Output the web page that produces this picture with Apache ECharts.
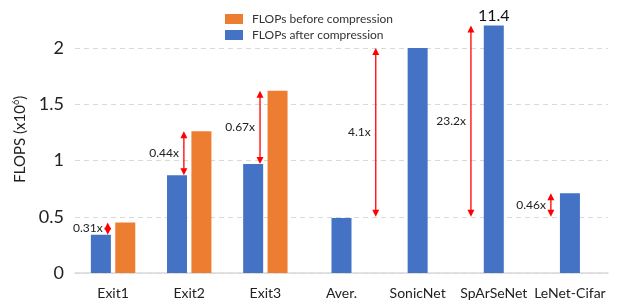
<!DOCTYPE html>
<html>
<head>
<meta charset="utf-8">
<script src="https://cdn.jsdelivr.net/npm/echarts@6/dist/echarts.min.js"></script>
<style>
  html, body { margin: 0; padding: 0; background: #fff; }
  #chart { width: 630px; height: 307px; }
</style>
</head>
<body>
<div id="chart"></div>
<script>
const categories = ['Exit1', 'Exit2', 'Exit3', 'Aver.', 'SonicNet', 'SpArSeNet', 'LeNet-Cifar']
// FLOPs (x10^6); SpArSeNet bar is cut at the top of the axis, its real value is in the label
const flopsAfter = [0.34, 0.87, 0.97, 0.49, 2.0, 2.2, 0.71]
const flopsBefore = [0.45, 1.26, 1.62, null, null, null, null]
const barTopLabels = ['', '', '', '', '', '11.4', '']
const yTicks = [0, 0.5, 1, 1.5, 2]

// red double arrows: category, from, to, text
const arrowCategory = [0, 1, 2, 3, 5, 6]
const arrowFrom = [0.34, 0.87, 0.97, 0.5, 0.5, 0.5]
const arrowTo = [0.45, 1.26, 1.62, 2.0, 2.2, 0.71]
const arrowText = ['0.31x', '0.44x', '0.67x', '4.1x', '23.2x', '0.46x']

const BLUE = '#4472C4'
const ORANGE = '#ED7D31'
const FONT = 'Lato'
// horizontal arrow offset, as a fraction of the category band
const arrowShift = [-0.07, -0.07, -0.07, 0.45, -0.3, -0.25]

const chart = echarts.init(document.getElementById('chart'))

const pairedAfter = flopsAfter.map((v, i) => flopsBefore[i] != null ? v : '-')
const pairedBefore = flopsBefore.map(v => v != null ? v : '-')
const singleAfter = flopsAfter.map((v, i) => flopsBefore[i] == null ? v : '-')

function renderArrow(params, api) {
  const i = params.dataIndex
  const pFrom = api.coord([api.value(0), api.value(1)])
  const pTo = api.coord([api.value(0), api.value(2)])
  const band = api.size([1, 0])[0]
  const x = pFrom[0] + arrowShift[i] * band
  const yTop = Math.min(pFrom[1], pTo[1])
  const yBot = Math.max(pFrom[1], pTo[1])
  const h = 7, w = 3.5
  const red = '#FF0000'
  return {
    type: 'group',
    children: [
      { type: 'line', shape: { x1: x, y1: yTop + h - 1, x2: x, y2: yBot - h + 1 }, style: { stroke: red, lineWidth: 1.3 } },
      { type: 'polygon', shape: { points: [[x, yTop], [x - w, yTop + h], [x + w, yTop + h]] }, style: { fill: red } },
      { type: 'polygon', shape: { points: [[x, yBot], [x - w, yBot - h], [x + w, yBot - h]] }, style: { fill: red } },
      {
        type: 'text',
        x: x - 5,
        y: (yTop + yBot) / 2,
        style: {
          text: arrowText[i],
          align: 'right',
          verticalAlign: 'middle',
          fontFamily: FONT,
          fontSize: 12,
          fill: '#222'
        }
      }
    ]
  }
}

const option = {
  animation: false,
  textStyle: { fontFamily: FONT },
  legend: {
    orient: 'vertical',
    left: 220,
    top: 8,
    itemWidth: 18,
    itemHeight: 10,
    itemGap: 4,
    icon: 'rect',
    data: ['FLOPs before compression', 'FLOPs after compression'],
    textStyle: { fontFamily: FONT, fontSize: 12, color: '#333', padding: [0, 0, 0, 4] }
  },
  grid: { left: 75, right: 22, top: 25.5, bottom: 34 },
  xAxis: [
    {
      type: 'category',
      data: categories,
      axisTick: { show: false },
      axisLine: { lineStyle: { color: '#d9d9d9', width: 1.5 } },
      axisLabel: { interval: 0, hideOverlap: false, fontFamily: FONT, fontSize: 14, color: '#222', margin: 13 }
    },
    {
      type: 'category',
      data: categories,
      show: false
    }
  ],
  yAxis: {
    type: 'value',
    min: 0,
    max: 2.2,
    interval: 0.5,
    name: '{a|FLOPS (x10}{b|6}{a|)}',
    nameLocation: 'middle',
    nameGap: 40,
    nameRotate: 90,
    nameTextStyle: {
      padding: [0, 0, 0, 20],
      rich: {
        a: { fontFamily: FONT, fontSize: 15, color: '#222' },
        b: { fontFamily: FONT, fontSize: 9, color: '#222', padding: [0, 0, 9, 0] }
      }
    },
    axisLine: { show: false },
    axisTick: { show: false },
    axisLabel: {
      fontFamily: FONT,
      fontSize: 18,
      color: '#222',
      margin: 11,
      showMaxLabel: false,
      formatter: v => yTicks.includes(v) ? String(v) : ''
    },
    splitLine: { showMaxLine: false, lineStyle: { color: '#d9d9d9', type: [5, 4] } }
  },
  series: [
    {
      name: 'FLOPs after compression',
      type: 'bar',
      xAxisIndex: 0,
      data: pairedAfter,
      barWidth: 20,
      barGap: '22%',
      itemStyle: { color: BLUE }
    },
    {
      name: 'FLOPs before compression',
      type: 'bar',
      xAxisIndex: 0,
      data: pairedBefore,
      barWidth: 20,
      itemStyle: { color: ORANGE }
    },
    {
      name: 'FLOPs after compression',
      type: 'bar',
      xAxisIndex: 1,
      data: singleAfter,
      barWidth: 20,
      itemStyle: { color: BLUE },
      label: {
        show: true,
        position: 'top',
        distance: 2,
        fontFamily: FONT,
        fontSize: 16,
        color: '#111',
        formatter: p => barTopLabels[p.dataIndex]
      }
    },
    {
      type: 'custom',
      xAxisIndex: 0,
      clip: false,
      z: 5,
      renderItem: renderArrow,
      data: arrowCategory.map((c, i) => [c, arrowFrom[i], arrowTo[i]])
    }
  ]
}

chart.setOption(option)
</script>
</body>
</html>
